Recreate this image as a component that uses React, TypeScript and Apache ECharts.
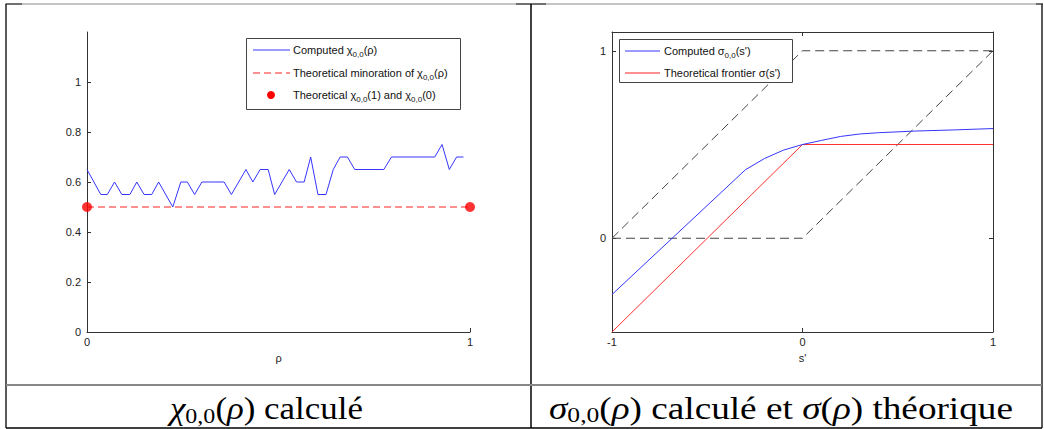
import React, { useEffect, useRef } from "react";
import * as echarts from "echarts";

// ---------- data ----------
const chiX = [0, 0.036, 0.053, 0.072, 0.091, 0.112, 0.13, 0.149, 0.169, 0.187, 0.224, 0.245, 0.262, 0.281, 0.3, 0.358, 0.377, 0.415, 0.433, 0.452, 0.473, 0.49, 0.528, 0.547, 0.567, 0.584, 0.603, 0.624, 0.643, 0.661, 0.68, 0.699, 0.775, 0.795, 0.908, 0.927, 0.946, 0.965, 0.983];
const chiY = [0.65, 0.55, 0.55, 0.6, 0.55, 0.55, 0.6, 0.55, 0.55, 0.6, 0.5, 0.6, 0.6, 0.55, 0.6, 0.6, 0.55, 0.65, 0.6, 0.65, 0.65, 0.55, 0.65, 0.6, 0.6, 0.7, 0.55, 0.55, 0.65, 0.7, 0.7, 0.65, 0.65, 0.7, 0.7, 0.75, 0.65, 0.7, 0.7];
const minorX = [0, 1];
const minorY = [0.5, 0.5];
const endX = [0, 1];
const endY = [0.5, 0.5];
const leftXTicks = [0, 1];
const leftYTicks = [0, 0.2, 0.4, 0.6, 0.8, 1];

const sigX = [-1, -0.3, -0.2, -0.1, 0, 0.1, 0.2, 0.3, 0.4, 0.6, 0.8, 1];
const sigY = [-0.3, 0.365, 0.425, 0.47, 0.5, 0.522, 0.543, 0.556, 0.563, 0.572, 0.578, 0.585];
const frontX = [-1, 0, 1];
const frontY = [-0.5, 0.5, 0.5];
const boundX = [-1, 0, 1];
const upperY = [0, 1, 1];
const lowerY = [0, 0, 1];
const rightYTicks = [0, 1];

const zip = (xs: number[], ys: number[]) => xs.map((x, i) => [x, ys[i]]);

const SANS = "Liberation Sans";
const SERIF_CSS = `"Liberation Serif", "DejaVu Serif", serif`;
const AXC = "#333";

function axisBase(extra: any) {
  return {
    type: "value",
    splitLine: { show: false },
    axisLine: { show: true, onZero: false, lineStyle: { color: AXC, width: 1 } },
    axisTick: { show: true, inside: true, length: 4, lineStyle: { color: AXC } },
    axisLabel: { fontSize: 11, color: "#222", fontFamily: SANS },
    ...extra,
  };
}

// caption tokens [style, text]
const capLeft: [string, string][] = [["i", "χ"], ["s", "0,0"], ["r", "("], ["i", "ρ"], ["r", ") calculé"]];
const capRight: [string, string][] = [["i", "σ"], ["s", "0,0"], ["r", "("], ["i", "ρ"], ["r", ") calculé et "], ["i", "σ"], ["r", "("], ["i", "ρ"], ["r", ") théorique"]];
const CAP_FS = 32;
const CAP_SUB = 22;
const capFonts: Record<string, string> = {
  i: `italic ${CAP_FS}px ${SERIF_CSS}`,
  r: `normal ${CAP_FS}px ${SERIF_CSS}`,
  s: `normal ${CAP_SUB}px ${SERIF_CSS}`,
};
const capDy: Record<string, number> = { i: 0, r: 0, s: 2 };

function measureTokens(tokens: [string, string][]) {
  const c = document.createElement("canvas").getContext("2d");
  return tokens.map(([s, t]) => {
    if (!c) return t.length * CAP_FS * 0.5;
    c.font = capFonts[s];
    return c.measureText(t).width;
  });
}

const legRich = {
  n: { fontFamily: SANS, fontSize: 11, lineHeight: 16, verticalAlign: "middle", fill: "#111" },
  s: { fontFamily: SANS, fontSize: 8, lineHeight: 9, verticalAlign: "bottom", fill: "#111" },
};

export default function App() {
  const ref = useRef<HTMLDivElement>(null);
  useEffect(() => {
    if (!ref.current) return;
    const chart = echarts.init(ref.current, undefined, { renderer: "svg" });

    const line = (x1: number, y1: number, x2: number, y2: number, stroke: string, lineWidth = 1, dash?: number[]) => ({
      type: "line",
      silent: true,
      z: 100,
      shape: { x1, y1, x2, y2 },
      style: { stroke, lineWidth, lineDash: dash },
    });
    const legText = (x: number, y: number, text: string) => ({
      type: "text",
      silent: true,
      z: 101,
      x,
      y,
      style: { text, rich: legRich, align: "left", verticalAlign: "middle", fontFamily: SANS, fontSize: 11, fill: "#111" },
    });

    // caption: one text element per token, laid out from measured widths
    const caption = (tokens: [string, string][], left: number, width: number, baseline: number) => {
      const ws = measureTokens(tokens);
      const total = ws.reduce((a, b) => a + b, 0);
      const k = width / total;
      const children: any[] = [];
      let cx = 0;
      tokens.forEach(([s, t], i) => {
        children.push({
          type: "text",
          silent: true,
          z: 101,
          x: cx,
          y: capDy[s],
          style: { text: t, font: capFonts[s], fill: "#000", align: "left", verticalAlign: "bottom" },
        });
        cx += ws[i];
      });
      return { type: "group", x: left, y: baseline, scaleX: k, children };
    };

    const graphic: any[] = [
      // table frame
      line(5, 4, 1043, 4, "#8a8a8a", 1),
      line(6, 4, 22, 4, "#555", 1.5),
      line(516, 4, 546, 4, "#555", 1.5),
      line(1036, 4, 1043, 4, "#555", 1.5),
      line(6, 4, 6, 428, "#222", 1.5),
      line(531, 4, 531, 428, "#000", 1.5),
      line(1042, 4, 1042, 428, "#222", 1.5),
      line(6, 385, 1042, 385, "#888", 2),
      line(6, 428, 1042, 428, "#000", 1.5),
      // left legend
      { type: "rect", z: 100, silent: true, shape: { x: 246.5, y: 38.5, width: 214, height: 71 }, style: { fill: "#fff", stroke: "#444", lineWidth: 1 } },
      line(253, 50, 290, 50, "#3535ff", 1),
      legText(293, 50, "{n|Computed χ}{s|0,0}{n|(ρ)}"),
      line(253, 73, 290, 73, "#ff2020", 1, [7, 4]),
      legText(293, 73, "{n|Theoretical minoration of χ}{s|0,0}{n|(ρ)}"),
      { type: "circle", z: 101, silent: true, shape: { cx: 271, cy: 95, r: 4 }, style: { fill: "#ff0000" } },
      legText(293, 95, "{n|Theoretical χ}{s|0,0}{n|(1) and χ}{s|0,0}{n|(0)}"),
      // right legend
      { type: "rect", z: 100, silent: true, shape: { x: 619.5, y: 39.5, width: 173, height: 43 }, style: { fill: "#fff", stroke: "#444", lineWidth: 1 } },
      line(625, 51, 660, 51, "#3535ff", 1),
      legText(664, 51, "{n|Computed σ}{s|0,0}{n|(s')}"),
      line(625, 73, 660, 73, "#ff2020", 1),
      legText(664, 73, "{n|Theoretical frontier σ(s')}"),
      // captions
      caption(capLeft, 170, 193, 424),
      caption(capRight, 549, 464, 424),
    ];

    const option: any = {
      animation: false,
      backgroundColor: "#fff",
      textStyle: { fontFamily: SANS },
      grid: [
        { left: 87, top: 32, width: 383, height: 300 },
        { left: 612, top: 32, width: 381, height: 300 },
      ],
      xAxis: [
        axisBase({
          gridIndex: 0, position: "bottom", min: 0, max: 1,
          axisLabel: { fontSize: 11, color: "#222", fontFamily: SANS, margin: 4, customValues: leftXTicks },
          axisTick: { show: true, inside: true, length: 4, lineStyle: { color: AXC }, customValues: leftXTicks },
          name: "ρ", nameLocation: "middle", nameGap: 20,
          nameTextStyle: { fontSize: 11, color: "#222", fontFamily: SANS },
        }),
        axisBase({
          gridIndex: 1, position: "bottom", min: -1, max: 1, interval: 1,
          axisLabel: { fontSize: 11, color: "#222", fontFamily: SANS, margin: 4 },
          name: "s'", nameLocation: "middle", nameGap: 20,
          nameTextStyle: { fontSize: 11, color: "#222", fontFamily: SANS },
        }),
        axisBase({
          gridIndex: 1, position: "top", min: -1, max: 1, interval: 1,
          axisLabel: { show: false },
        }),
      ],
      yAxis: [
        axisBase({
          gridIndex: 0, position: "left", min: 0, max: 1.2,
          axisLabel: { fontSize: 11, color: "#222", fontFamily: SANS, margin: 6, customValues: leftYTicks },
          axisTick: { show: true, inside: true, length: 4, lineStyle: { color: AXC }, customValues: leftYTicks },
        }),
        axisBase({
          gridIndex: 1, position: "left", min: -0.5, max: 1.1,
          axisLabel: { fontSize: 11, color: "#222", fontFamily: SANS, margin: 6, customValues: rightYTicks },
          axisTick: { show: true, inside: true, length: 4, lineStyle: { color: AXC }, customValues: rightYTicks },
        }),
        axisBase({
          gridIndex: 1, position: "right", min: -0.5, max: 1.1,
          axisLabel: { show: false, customValues: rightYTicks },
          axisTick: { show: true, inside: true, length: 4, lineStyle: { color: AXC }, customValues: rightYTicks },
        }),
      ],
      series: [
        {
          type: "line", xAxisIndex: 0, yAxisIndex: 0, data: zip(minorX, minorY), showSymbol: false, silent: true,
          lineStyle: { color: "#ff2020", width: 1, type: [7, 4] },
        },
        {
          type: "line", xAxisIndex: 0, yAxisIndex: 0, data: zip(chiX, chiY), showSymbol: false, silent: true,
          lineStyle: { color: "#3535ff", width: 1 },
        },
        {
          type: "scatter", xAxisIndex: 0, yAxisIndex: 0, data: zip(endX, endY), symbolSize: 10, silent: true, clip: false,
          itemStyle: { color: "#ff0000" }, z: 5,
        },
        {
          type: "line", xAxisIndex: 1, yAxisIndex: 1, data: zip(boundX, upperY), showSymbol: false, silent: true,
          lineStyle: { color: "#444", width: 1, type: [9, 5] },
        },
        {
          type: "line", xAxisIndex: 1, yAxisIndex: 1, data: zip(boundX, lowerY), showSymbol: false, silent: true,
          lineStyle: { color: "#444", width: 1, type: [9, 5] },
        },
        {
          type: "line", xAxisIndex: 1, yAxisIndex: 1, data: zip(frontX, frontY), showSymbol: false, silent: true,
          lineStyle: { color: "#ff3030", width: 1 },
        },
        {
          type: "line", xAxisIndex: 1, yAxisIndex: 1, data: zip(sigX, sigY), showSymbol: false, silent: true,
          lineStyle: { color: "#3535ff", width: 1 },
        },
      ],
      graphic,
    };
    chart.setOption(option);
    return () => chart.dispose();
  }, []);
  return <div ref={ref} style={{ position: "fixed", left: 0, top: 0, width: 1044, height: 429, background: "#fff" }} />;
}
